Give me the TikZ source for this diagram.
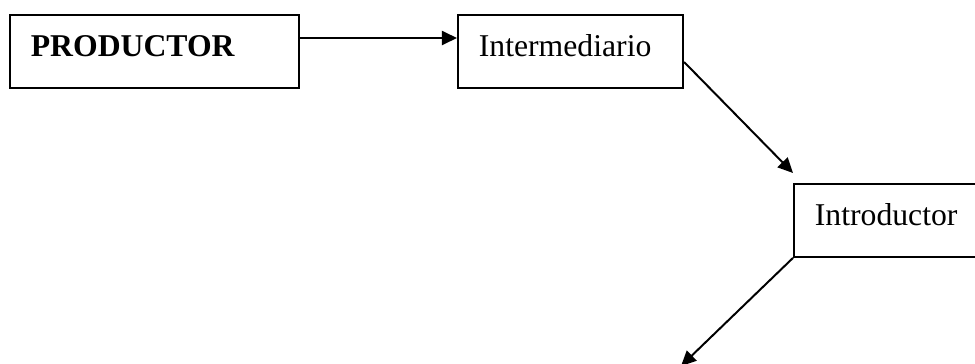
\documentclass[tikz,border=0pt]{standalone}
\usepackage{fontspec}
\setmainfont{Liberation Serif}
\usetikzlibrary{calc,arrows.meta}
\newcommand{\boxpad}{7.9pt}
\tikzset{caja/.style={draw, line width=.75pt, rectangle, anchor=north west, align=left,
    inner xsep=\boxpad, inner ysep=0pt, text height=15.8pt, text depth=11.8pt,
    font=\fontsize{12pt}{14pt}\selectfont},
  flecha/.style={line width=.75pt, -{Triangle[length=5.7pt,width=5.3pt]}}}

\begin{document}
\begin{tikzpicture}[x=.3785pt,y=-.3785pt]
    % Productor -> intermediario -> introductor
\useasboundingbox (0,0) rectangle (975,363);
\node (prod) at (9,14) [caja, text width=93.6pt] {\textbf{PRODUCTOR}};
\node (inter) at (457,14) [caja, text width=69.4pt] {Intermediario};
\node (intro) at (793,183) [caja, text width=69.4pt] {Introductor};
\coordinate (fin) at (681,366);

\draw[flecha] ($(prod.north east)+(0,24)$) -- ($(inter.north west)+(0,24)$);
\draw[flecha] ($(inter.north east)+(0,48)$) -- ($(intro.north west)+(0,-10)$);
\draw[flecha] (intro.south west) -- (fin);

\end{tikzpicture}
\end{document}
